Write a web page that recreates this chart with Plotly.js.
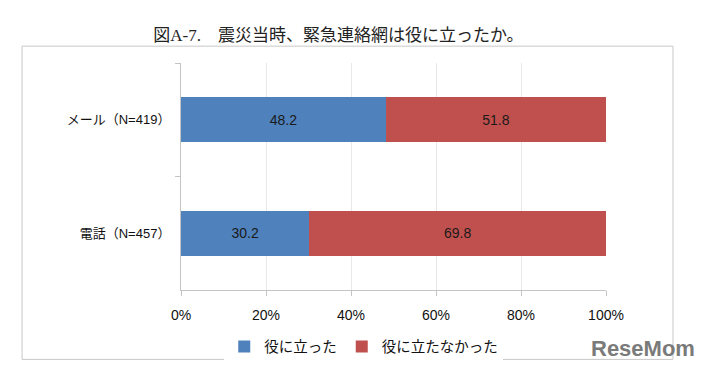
<!DOCTYPE html>
<html>
<head>
<meta charset="utf-8">
<script src="https://cdn.plot.ly/plotly-3.0.1.min.js"></script>
<style>html,body{margin:0;padding:0;background:#fff}#chart{width:705px;height:374px}</style>
</head>
<body>
<div id="chart"></div>
<script>
const categories = ["メール（N=419）", "電話（N=457）"];
const seriesNames = ["役に立った", "役に立たなかった"];
const helpful = [48.2, 30.2];
const notHelpful = [51.8, 69.8];
const xTickVals = [0, 20, 40, 60, 80, 100];
const xTickText = ["0%", "20%", "40%", "60%", "80%", "100%"];
const colors = ["#4F81BD", "#C0504D"];

const sans = "Liberation Sans, Noto Sans CJK JP, sans-serif";
const traces = [helpful, notHelpful].map((vals, i) => ({
  type: "bar",
  orientation: "h",
  name: seriesNames[i],
  y: categories,
  x: vals,
  marker: {color: colors[i], line: {width: 0}},
  text: vals.map(v => v.toFixed(1)),
  textposition: "inside",
  insidetextanchor: "middle",
  textfont: {family: sans, size: 14, color: "#1a1a1a"},
  hoverinfo: "skip"
}));

const layout = {
  width: 705, height: 374,
  margin: {l: 181, r: 99, t: 63, b: 82},
  paper_bgcolor: "#fff", plot_bgcolor: "#fff",
  barmode: "stack",
  bargap: 0.6,
  showlegend: true,
  title: {
    text: "図A-7.　震災当時、緊急連絡網は役に立ったか。",
    font: {family: "Liberation Serif, Noto Sans CJK JP, serif", size: 17, color: "#222"},
    x: 0.48, xanchor: "center", xref: "container",
    y: 0.905, yanchor: "middle", yref: "container"
  },
  xaxis: {
    range: [0, 100], tickvals: xTickVals, ticktext: xTickText,
    showgrid: true, gridcolor: "#e8e8e8", gridwidth: 1,
    showline: true, linecolor: "#c4c4c4", linewidth: 1,
    ticks: "outside", ticklen: 5, tickcolor: "#c4c4c4",
    tickfont: {family: sans, size: 14, color: "#111"},
    ticklabelstandoff: 7,
    zeroline: false, fixedrange: true
  },
  yaxis: {
    type: "category", categoryorder: "array", categoryarray: categories,
    autorange: "reversed",
    showgrid: false, zeroline: false,
    showline: true, linecolor: "#c4c4c4", linewidth: 1,
    ticks: "outside", ticklen: 5, tickcolor: "#c4c4c4", tickson: "boundaries",
    tickfont: {family: sans, size: 13, color: "#111"},
    ticklabelstandoff: 7,
    fixedrange: true
  },
  legend: {
    orientation: "h", x: 0.43, xanchor: "center", y: -0.249, yanchor: "middle",
    font: {family: sans, size: 14.5, color: "#111"},
    traceorder: "normal", itemclick: false, itemdoubleclick: false
  },
  shapes: [{
    type: "rect", xref: "paper", yref: "paper",
    x0: -0.374, x1: 1.1576, y0: -0.3057, y1: 1.0742,
    line: {color: "#c8c8c8", width: 1}, fillcolor: "rgba(0,0,0,0)", layer: "below"
  }],
  annotations: [{
    text: "ReseMom", xref: "paper", yref: "paper",
    x: 1.088, y: -0.258, xanchor: "center", yanchor: "middle", showarrow: false,
    font: {family: "Liberation Sans, sans-serif", size: 22, color: "#7a7a7a", weight: "bold"}
  }]
};

Plotly.newPlot("chart", traces, layout, {displayModeBar: false, staticPlot: true});
</script>
</body>
</html>
